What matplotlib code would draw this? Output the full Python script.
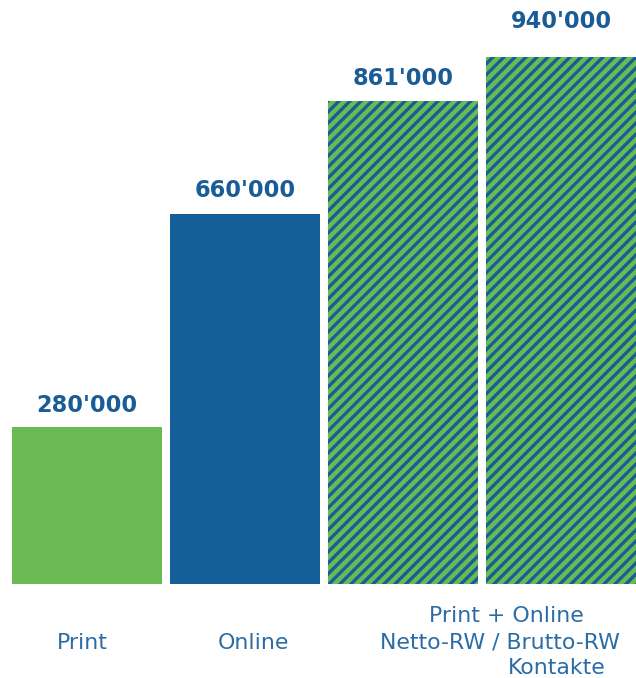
import matplotlib
matplotlib.use("Agg")
import matplotlib.pyplot as plt
from matplotlib.transforms import blended_transform_factory, offset_copy

categories = ["Print", "Online", "Netto-RW", "Brutto-RW"]
values = [280000, 660000, 861000, 940000]
value_labels = ["280'000", "660'000", "861'000", "940'000"]
label_offsets_px = [22, 23, 23, 35]

GREEN = "#6ab953"
BLUE = "#155f99"
TEXT_BLUE = "#1a5d96"
LABEL_BLUE = "#2a6ca6"

DPI = 132
W, H = 636, 678
plt.rcParams["hatch.linewidth"] = 1.8
plt.rcParams["hatch.color"] = BLUE

fig = plt.figure(figsize=(W / DPI, H / DPI), dpi=DPI)
ax = fig.add_axes([12 / W, 94 / H, 624 / W, 527 / H])

bw = 0.948
for i, v in enumerate(values):
    if i == 0:
        ax.bar(i, v, width=bw, color=GREEN, linewidth=0)
    elif i == 1:
        ax.bar(i, v, width=bw, color=BLUE, linewidth=0)
    else:
        ax.bar(i, v, width=bw, color=GREEN, edgecolor=BLUE, hatch="////", linewidth=0)

ax.set_xlim(-bw / 2, len(values) - 1 + bw / 2)
ax.set_ylim(0, max(values))
ax.axis("off")

for i, (v, lab) in enumerate(zip(values, value_labels)):
    tr = offset_copy(ax.transData, fig=fig, x=0, y=label_offsets_px[i] * 72 / DPI, units="points")
    ax.text(i, v, lab, transform=tr, ha="center", va="center", fontsize=12.3,
            fontweight="bold", color=TEXT_BLUE, family="DejaVu Sans", clip_on=False)

def px_to_data(px):
    return (px - 12) / 624 * (len(values) - 1 + bw) - bw / 2

tb = blended_transform_factory(ax.transData, fig.transFigure)
ax.text(px_to_data(82), 1 - 643 / H, categories[0], transform=tb, ha="center", va="center",
        fontsize=12, color=LABEL_BLUE)
ax.text(px_to_data(253), 1 - 643 / H, categories[1], transform=tb, ha="center", va="center",
        fontsize=12, color=LABEL_BLUE)
ax.text(px_to_data(506), 1 - 616 / H, "Print + Online", transform=tb, ha="center",
        va="center", fontsize=12, color=LABEL_BLUE)
ax.text(px_to_data(500), 1 - 642 / H, categories[2] + " / " + categories[3], transform=tb,
        ha="center", va="center", fontsize=12, color=LABEL_BLUE)
ax.text(px_to_data(557), 1 - 668 / H, "Kontakte", transform=tb, ha="center",
        va="center", fontsize=12, color=LABEL_BLUE)

fig.savefig("out.png", dpi=DPI)
